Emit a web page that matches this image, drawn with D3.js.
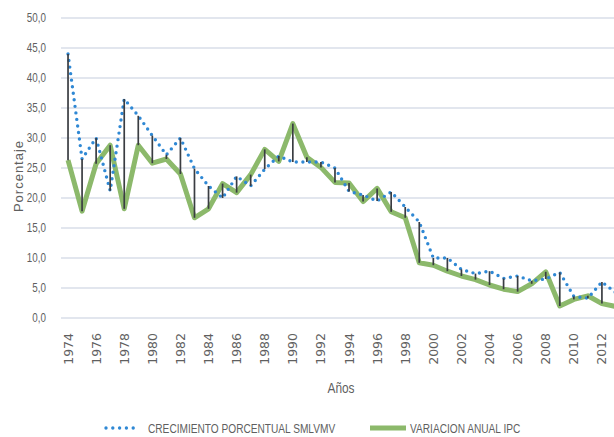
<!DOCTYPE html>
<html><head><meta charset="utf-8">
<script src="https://cdn.jsdelivr.net/npm/d3@7"></script>
<style>
html,body{margin:0;padding:0;background:#fff;overflow:hidden;}
text{font-family:"Liberation Sans","Open Sans",sans-serif;fill:#5f5f5f;}
</style></head>
<body>
<svg id="c" width="614" height="437"></svg>
<script>
const years = [1974,1975,1976,1977,1978,1979,1980,1981,1982,1983,1984,1985,1986,1987,1988,1989,1990,1991,1992,1993,1994,1995,1996,1997,1998,1999,2000,2001,2002,2003,2004,2005,2006,2007,2008,2009,2010,2011,2012,2013];
const smlv = [44.0,26.5,30.0,21.2,36.5,33.7,30.4,27.2,30.0,24.9,22.0,20.0,23.6,22.0,24.8,27.0,26.0,26.0,26.0,25.0,21.1,20.5,19.5,21.0,18.5,16.0,10.0,10.0,8.1,7.4,7.8,6.6,7.0,6.2,6.5,7.6,3.6,3.3,6.0,4.2];
const ipc = [26.3,17.8,25.7,28.8,18.2,28.8,25.8,26.5,24.0,16.7,18.2,22.4,20.9,23.9,28.1,26.1,32.4,26.8,25.1,22.6,22.5,19.4,21.6,17.7,16.7,9.2,8.8,7.8,7.0,6.4,5.5,4.8,4.4,5.7,7.7,2.0,3.1,3.7,2.4,1.9];
const yTicks = [0,5,10,15,20,25,30,35,40,45,50];
const xTickYears = years.filter(y => (y - 1974) % 2 === 0);
const seriesNames = ["CRECIMIENTO PORCENTUAL SMLVMV", "VARIACION ANUAL IPC"];

const svg = d3.select("#c");
const plotL = 61, plotR = 623;
const x = d3.scalePoint().domain(years).range([plotL, plotR]).padding(0.5);
const y = d3.scaleLinear().domain([0, 50]).range([318, 18]);

// gridlines
svg.append("g").selectAll("line").data(yTicks).join("line")
  .attr("x1", plotL).attr("x2", plotR)
  .attr("y1", d => y(d)).attr("y2", d => y(d))
  .attr("stroke", "#d9dee8").attr("stroke-width", 1.6);

// y tick labels (compressed)
const fmt = d => d.toFixed(1).replace(".", ",");
svg.append("g").selectAll("text").data(yTicks).join("text")
  .attr("transform", d => `translate(46,${y(d)}) scale(0.82,1)`)
  .attr("text-anchor", "end").attr("dy", "0.35em")
  .style("font-size", "12px")
  .text(fmt);

// y axis title
svg.append("text")
  .attr("transform", "translate(18,176) rotate(-90)")
  .attr("text-anchor", "middle").attr("dominant-baseline", "central")
  .style("font-size", "13px").style("letter-spacing", "1px")
  .text("Porcentaje");

// x tick labels
svg.append("g").selectAll("text").data(xTickYears).join("text")
  .attr("transform", d => `translate(${x(d)},333) rotate(-90)`)
  .attr("text-anchor", "end").attr("dominant-baseline", "central")
  .style("font-family", "DejaVu Sans").style("font-size", "12.5px")
  .text(d => d);

// x axis title
svg.append("text")
  .attr("transform", "translate(341,393) scale(0.85,1)")
  .attr("text-anchor", "middle")
  .style("font-size", "14px")
  .text("Años");

const line = d3.line().x((d, i) => x(years[i])).y(d => y(d));

// IPC green line
svg.append("path").datum(ipc).attr("d", line)
  .attr("fill", "none").attr("stroke", "#8cb96b").attr("stroke-width", 5)
  .attr("stroke-linejoin", "round");

// SMLV dotted blue line
svg.append("path").datum(smlv).attr("d", line)
  .attr("fill", "none").attr("stroke", "#2f88d4").attr("stroke-width", 3.4)
  .attr("stroke-linecap", "round").attr("stroke-dasharray", "0 6.6");

// high-low lines
svg.append("g").selectAll("line").data(years).join("line")
  .attr("x1", d => x(d)).attr("x2", d => x(d))
  .attr("y1", (d, i) => y(smlv[i])).attr("y2", (d, i) => y(ipc[i]))
  .attr("stroke", "#3a3d42").attr("stroke-width", 1.7);

// legend
const lg = svg.append("g");
lg.append("line").attr("x1", 106).attr("x2", 140).attr("y1", 428).attr("y2", 428)
  .attr("stroke", "#2f88d4").attr("stroke-width", 3.4)
  .attr("stroke-linecap", "round").attr("stroke-dasharray", "0 6.8");
lg.append("text").attr("transform", "translate(148,428) scale(0.78,1)")
  .attr("dy", "0.35em").style("font-size", "13px").text(seriesNames[0]);
lg.append("line").attr("x1", 370).attr("x2", 406).attr("y1", 428).attr("y2", 428)
  .attr("stroke", "#8cb96b").attr("stroke-width", 5);
lg.append("text").attr("transform", "translate(410,428) scale(0.78,1)")
  .attr("dy", "0.35em").style("font-size", "13px").text(seriesNames[1]);
</script>
</body></html>
